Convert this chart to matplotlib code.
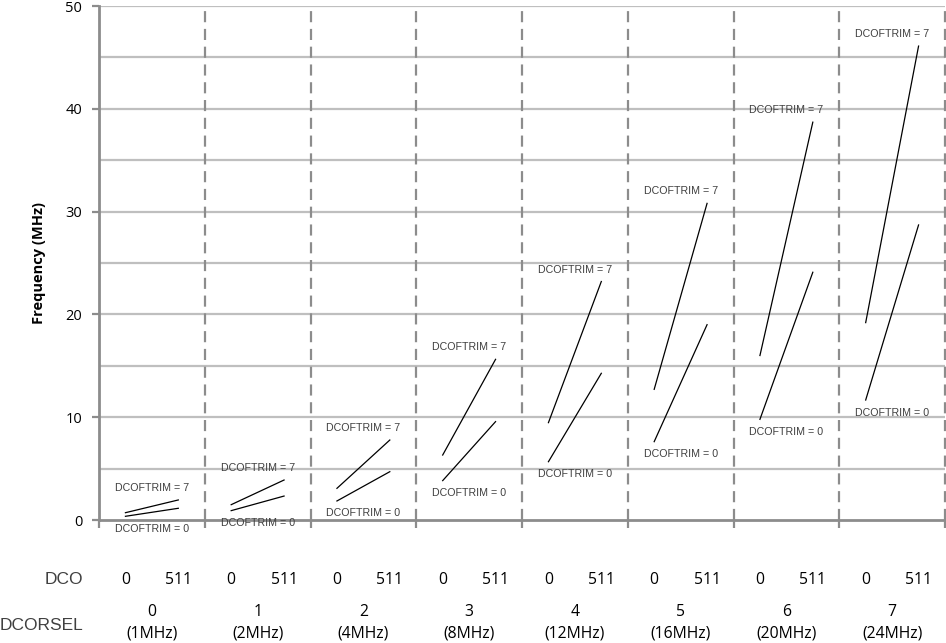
import matplotlib
matplotlib.use("Agg")
import matplotlib.pyplot as plt
from matplotlib.transforms import blended_transform_factory

# ---- data ----
dcorsel = [0, 1, 2, 3, 4, 5, 6, 7]
dcorsel_freq = ["(1MHz)", "(2MHz)", "(4MHz)", "(8MHz)", "(12MHz)", "(16MHz)", "(20MHz)", "(24MHz)"]
dco = [0, 511]
trim0_start = [0.36, 0.91, 1.85, 3.83, 5.67, 7.62, 9.79, 11.67]
trim0_end = [1.14, 2.33, 4.70, 9.57, 14.27, 19.0, 24.1, 28.7]
trim7_start = [0.71, 1.49, 3.08, 6.32, 9.47, 12.71, 16.0, 19.2]
trim7_end = [1.95, 3.89, 7.78, 15.63, 23.2, 30.8, 38.7, 46.1]
label7 = "DCOFTRIM = 7"
label0 = "DCOFTRIM = 0"
yticks = [0, 10, 20, 30, 40, 50]

def xpos(group, d):
    return group + 0.25 + 0.5 * d / 511.0

fig = plt.figure(figsize=(9.46, 6.43), dpi=100)
ax = fig.add_axes([99/946, 1 - 520/643, 846/946, (520 - 6)/643])

grid_c = "#bfbfbf"
axis_c = "#8c8c8c"
txt_c = "#404040"

ax.set_xlim(0, 8)
ax.set_ylim(0, 50)
for v in range(5, 51, 5):
    ax.axhline(v, color=grid_c, lw=1.6, zorder=1)
for g in range(1, 9):
    ax.axvline(g, color=axis_c, lw=1.6, ls=(0, (5, 3)), zorder=1, clip_on=False)

for g in dcorsel:
    xs = [xpos(g, d) for d in dco]
    ax.plot(xs, [trim0_start[g], trim0_end[g]], color="black", lw=0.9, zorder=3)
    ax.plot(xs, [trim7_start[g], trim7_end[g]], color="black", lw=0.9, zorder=3)
    ax.annotate(label7, (g + 0.5, trim7_end[g]), xytext=(0, 8.6), textcoords="offset points",
                ha="center", va="center", fontsize=7.7, color=txt_c, family="Liberation Sans")
    ax.annotate(label0, (g + 0.5, trim0_start[g]), xytext=(0, -9), textcoords="offset points",
                ha="center", va="center", fontsize=7.7, color=txt_c, family="Liberation Sans",
                annotation_clip=False)

for s in ["top", "right"]:
    ax.spines[s].set_visible(False)
ax.spines["left"].set_color(axis_c)
ax.spines["left"].set_linewidth(2)
ax.spines["bottom"].set_color(axis_c)
ax.spines["bottom"].set_linewidth(2)

ax.set_yticks(yticks)
ax.set_yticklabels([str(v) for v in yticks], fontsize=10.5, family="Open Sans", color="black")
ax.tick_params(axis="y", length=5, width=1.6, color=axis_c, pad=7)
ax.set_xticks(range(0, 9))
ax.set_xticklabels([])
ax.tick_params(axis="x", length=6, width=1.6, color=axis_c)

ax.set_ylabel("Frequency (MHz)", fontsize=10.5, fontweight="bold", family="Open Sans", labelpad=14)

trans = blended_transform_factory(ax.transData, fig.transFigure)
def fy(py):
    return 1 - py / 643

for g in dcorsel:
    for d in dco:
        ax.text(xpos(g, d), fy(580), str(d), transform=trans, ha="center", va="center",
                fontsize=11.3, family="Open Sans", color="black")
    ax.text(g + 0.5, fy(612), str(g), transform=trans, ha="center", va="center",
            fontsize=11.3, family="Open Sans", color="black")
    ax.text(g + 0.5, fy(634), dcorsel_freq[g], transform=trans, ha="center", va="center",
            fontsize=11.3, family="Open Sans", color="black")

fig.text(83/946, fy(580), "DCO", ha="right", va="center", fontsize=12.5,
         family="Liberation Sans", color=txt_c)
fig.text(0, fy(626), "DCORSEL", ha="left", va="center", fontsize=12.5,
         family="Liberation Sans", color=txt_c)

fig.savefig("out.png", dpi=100)
